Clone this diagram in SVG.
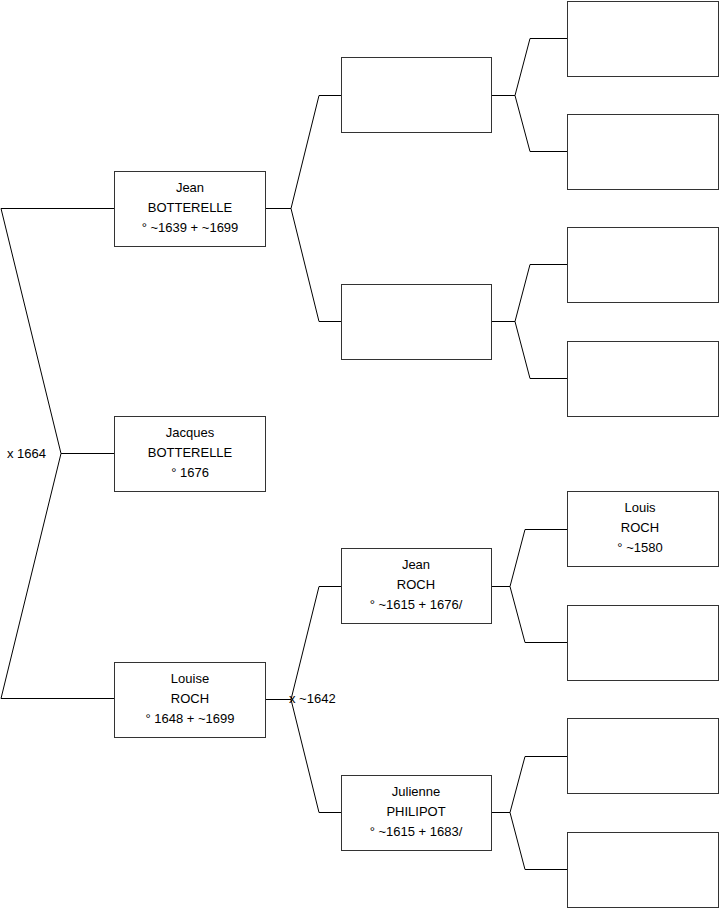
<svg xmlns="http://www.w3.org/2000/svg" width="719" height="908" viewBox="0 0 719 908">
<style>
.box{fill:#fff;stroke:#333;stroke-width:1}
.ln{fill:none;stroke:#000;stroke-width:1}
text{font-family:"Liberation Sans",Arial,sans-serif;font-size:13px;fill:#000}
.c{text-anchor:middle}
</style>
<rect width="719" height="908" fill="#fff"/>
<g id="connectors">
<path class="ln" d="M114.5,208.5 H1 L61,453.5 L1,698.5 H114.5 M61,453.5 H114.5"/>
<path class="ln" d="M265.5,208.5 H291 L319,95.5 H341 M291,208.5 L319,321.5 H341"/>
<path class="ln" d="M492,95.5 H515 L530,38.5 H567 M515,95.5 L530,151.5 H567"/>
<path class="ln" d="M492,321.5 H515 L530,264.5 H567 M515,321.5 L530,378.5 H567"/>
<path class="ln" d="M265.5,699.5 H291 L319,586.5 H341 M291,699.5 L319,812.5 H341"/>
<path class="ln" d="M492,586.5 H510 L525,529.5 H567 M510,586.5 L525,642.5 H567"/>
<path class="ln" d="M492,812.5 H510 L525,756.5 H567 M510,812.5 L525,869.5 H567"/>
<text x="7" y="458">x 1664</text>
<text x="289" y="703">x ~1642</text>
</g>
<g id="n-jean-botterelle">
<rect class="box" x="114.5" y="171.5" width="151" height="75"/>
<text class="c" x="190" y="192">Jean</text>
<text class="c" x="190" y="212">BOTTERELLE</text>
<text class="c" x="190" y="232">° ~1639 + ~1699</text>
</g>
<g id="n-jacques-botterelle">
<rect class="box" x="114.5" y="416.5" width="151" height="75"/>
<text class="c" x="190" y="437">Jacques</text>
<text class="c" x="190" y="457">BOTTERELLE</text>
<text class="c" x="190" y="477">° 1676</text>
</g>
<g id="n-louise-roch">
<rect class="box" x="114.5" y="662.5" width="151" height="75"/>
<text class="c" x="190" y="683">Louise</text>
<text class="c" x="190" y="703">ROCH</text>
<text class="c" x="190" y="723">° 1648 + ~1699</text>
</g>
<g id="n-f1">
<rect class="box" x="341.5" y="57.5" width="150" height="75"/>
</g>
<g id="n-m1">
<rect class="box" x="341.5" y="284.5" width="150" height="75"/>
</g>
<g id="n-jean-roch">
<rect class="box" x="341.5" y="548.5" width="150" height="75"/>
<text class="c" x="416" y="569">Jean</text>
<text class="c" x="416" y="589">ROCH</text>
<text class="c" x="416" y="609">° ~1615 + 1676/</text>
</g>
<g id="n-julienne-philipot">
<rect class="box" x="341.5" y="775.5" width="150" height="75"/>
<text class="c" x="416" y="796">Julienne</text>
<text class="c" x="416" y="816">PHILIPOT</text>
<text class="c" x="416" y="836">° ~1615 + 1683/</text>
</g>
<g id="n-g1"><rect class="box" x="567.5" y="1.5" width="151" height="75"/></g>
<g id="n-g2"><rect class="box" x="567.5" y="114.5" width="151" height="75"/></g>
<g id="n-g3"><rect class="box" x="567.5" y="227.5" width="151" height="75"/></g>
<g id="n-g4"><rect class="box" x="567.5" y="341.5" width="151" height="75"/></g>
<g id="n-louis-roch">
<rect class="box" x="567.5" y="491.5" width="151" height="75"/>
<text class="c" x="640" y="512">Louis</text>
<text class="c" x="640" y="532">ROCH</text>
<text class="c" x="640" y="552">° ~1580</text>
</g>
<g id="n-g6"><rect class="box" x="567.5" y="605.5" width="151" height="75"/></g>
<g id="n-g7"><rect class="box" x="567.5" y="718.5" width="151" height="75"/></g>
<g id="n-g8"><rect class="box" x="567.5" y="832.5" width="151" height="75"/></g>
</svg>
